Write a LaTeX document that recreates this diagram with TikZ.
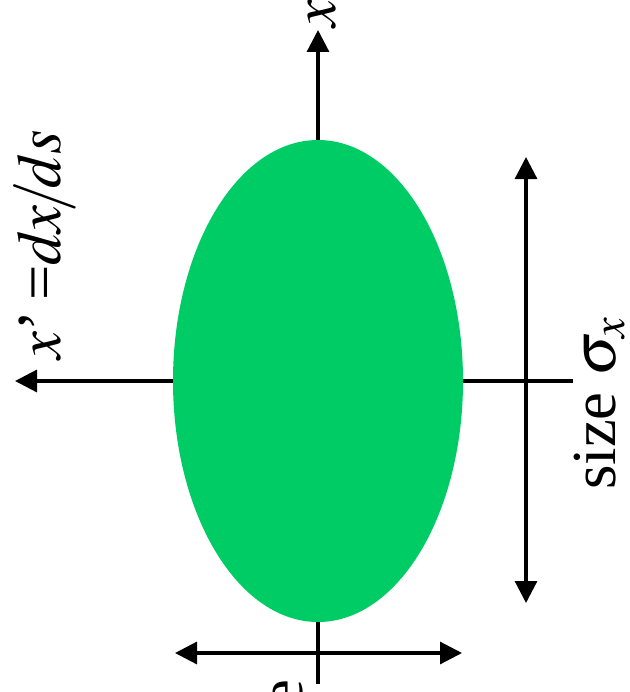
\documentclass[tikz,border=0pt]{standalone}
\usepackage{mathptmx}
\usepackage[no-math]{fontspec}
\setmainfont{Liberation Serif}
\usetikzlibrary{arrows.meta,shapes.geometric}
\definecolor{beamgreen}{HTML}{00CC66}
\tikzset{
  axline/.style={line width=2.4pt, black},
  axarrow/.style={axline, -{Triangle[length=16.5pt, width=16.5pt]}},
  dblarrow/.style={axline, {Triangle[length=16.5pt, width=16.5pt]}-{Triangle[length=16.5pt, width=16.5pt]}},
  beamspot/.style={ellipse, fill=beamgreen, inner sep=0pt, minimum width=217.5pt, minimum height=361.5pt},
  axlabel/.style={rotate=90, anchor=base west, inner sep=0pt, font=\fontsize{47}{56}\selectfont},
}

\begin{document}
\begin{tikzpicture}[x=0.75pt, y=-0.75pt]
  \useasboundingbox (0,0) rectangle (630,692);
  \clip (0,0) rectangle (630,692);
  % axes
  \coordinate (xtop) at (318,30);
  \coordinate (xbot) at (318,684);
  \coordinate (xpleft) at (15,381);
  \coordinate (xpright) at (573,381);
  \draw[axarrow] (xbot) -- (xtop);
  \draw[axarrow] (xpright) -- (xpleft);
  % the beam
  \node[beamspot] (beam) at (318,381) {};
  % size arrows
  \coordinate (sigtop) at (526,157);
  \coordinate (sigbot) at (526,603);
  \coordinate (epsleft) at (175,653);
  \coordinate (epsright) at (462,653);
  \draw[dblarrow] (sigbot) -- (sigtop);
  \draw[dblarrow] (epsleft) -- (epsright);
  % labels
  \node[axlabel] (xlab) at (335,28) {$x$};
  \node[axlabel] (xplab) at (60,360) {$x$’\,=$d\mkern-1mu x\mkern-2mu/\mkern-2mu ds$};
  \node[axlabel] (sizelab) at (615,490) {size $\sigma_x$};
  \node[axlabel] (elab) at (302,708) {e};
\end{tikzpicture}
\end{document}
